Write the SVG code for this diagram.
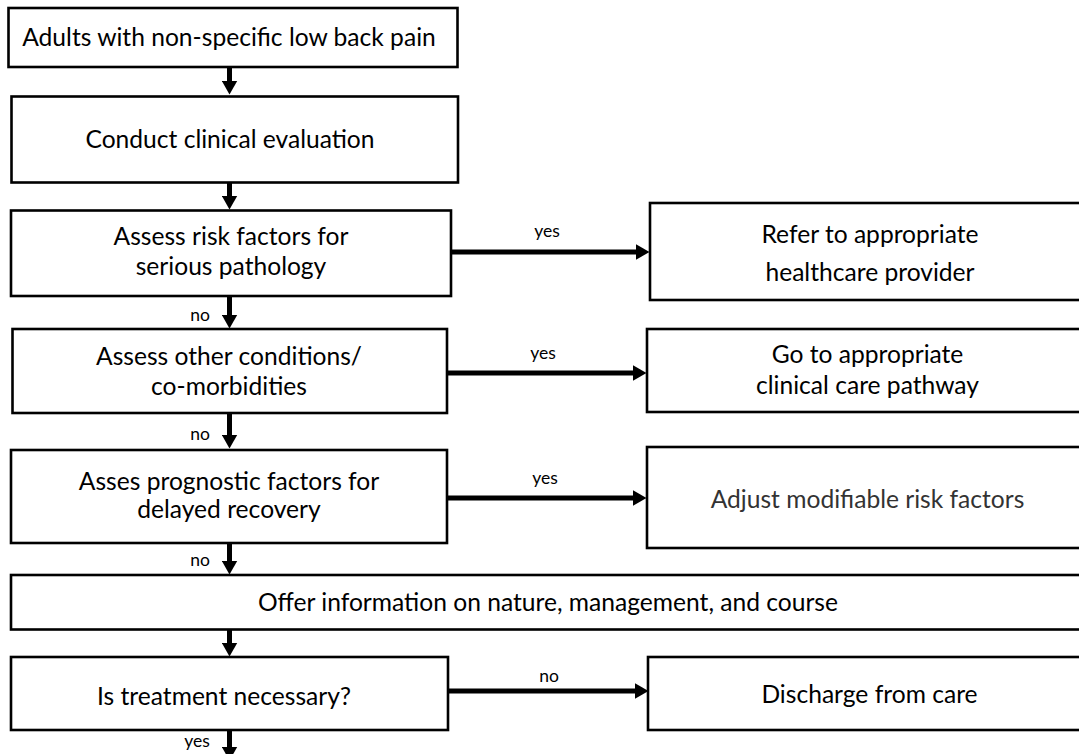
<svg xmlns="http://www.w3.org/2000/svg" width="1079" height="754" viewBox="0 0 1079 754">
<style>
.box{fill:#fff;stroke:#000;stroke-width:2.6}
.t{font-family:Lato,"Liberation Sans",sans-serif;font-size:24.6px;fill:#000;text-anchor:middle}
.g{fill:#333}
.l{font-family:Lato,"Liberation Sans",sans-serif;font-size:17.5px;fill:#000;text-anchor:middle}
.c{stroke:#000;stroke-width:5;fill:none}
</style>
<defs>
<marker id="ah" viewBox="0 0 14 16" markerWidth="14" markerHeight="16" markerUnits="userSpaceOnUse" refX="0.5" refY="8" orient="auto">
<path d="M0,0 L14,8 L0,16 Z" fill="#000"/>
</marker>
</defs>
<rect width="1079" height="754" fill="#fff"/>
<g id="connectors">
<line class="c" x1="229.5" y1="67" x2="229.5" y2="81" marker-end="url(#ah)"/>
<line class="c" x1="229.5" y1="183" x2="229.5" y2="196" marker-end="url(#ah)"/>
<line class="c" x1="229.5" y1="296" x2="229.5" y2="315" marker-end="url(#ah)"/>
<line class="c" x1="229.5" y1="413" x2="229.5" y2="435" marker-end="url(#ah)"/>
<line class="c" x1="229.5" y1="543" x2="229.5" y2="561" marker-end="url(#ah)"/>
<line class="c" x1="229.5" y1="630" x2="229.5" y2="643" marker-end="url(#ah)"/>
<line class="c" x1="229.5" y1="730" x2="229.5" y2="747" marker-end="url(#ah)"/>
<line class="c" x1="451" y1="252" x2="636" y2="252" marker-end="url(#ah)"/>
<line class="c" x1="447" y1="373" x2="633" y2="373" marker-end="url(#ah)"/>
<line class="c" x1="447" y1="498" x2="633" y2="498" marker-end="url(#ah)"/>
<line class="c" x1="449" y1="691" x2="635" y2="691" marker-end="url(#ah)"/>
<text class="l" x="547" y="237">yes</text>
<text class="l" x="543" y="359">yes</text>
<text class="l" x="545" y="484">yes</text>
<text class="l" x="549" y="682">no</text>
<text class="l" x="200" y="321">no</text>
<text class="l" x="200" y="440">no</text>
<text class="l" x="200" y="566">no</text>
<text class="l" x="197" y="747">yes</text>
</g>
<g id="n1"><rect class="box" x="8.5" y="8" width="449" height="59"/><text class="t" x="229" y="46">Adults with non-specific low back pain</text></g>
<g id="n2"><rect class="box" x="11.5" y="96.5" width="446.5" height="86"/><text class="t" x="230" y="148">Conduct clinical evaluation</text></g>
<g id="n3"><rect class="box" x="11" y="210.5" width="440" height="85.5"/><text class="t" x="231" y="245">Assess risk factors for</text><text class="t" x="231" y="275">serious pathology</text></g>
<g id="n4"><rect class="box" x="12.5" y="329" width="434.5" height="84"/><text class="t" x="229" y="365">Assess other conditions/</text><text class="t" x="229" y="395">co-morbidities</text></g>
<g id="n5"><rect class="box" x="11" y="450" width="436" height="93"/><text class="t" x="229" y="490">Asses prognostic factors for</text><text class="t" x="229" y="518">delayed recovery</text></g>
<g id="n6"><rect class="box" x="11" y="575" width="1080" height="54.5"/><text class="t" x="548" y="611">Offer information on nature, management, and course</text></g>
<g id="n7"><rect class="box" x="11" y="657" width="437" height="73"/><text class="t" x="224" y="705">Is treatment necessary?</text></g>
<g id="r1"><rect class="box" x="650" y="203" width="450" height="97"/><text class="t" x="870" y="243">Refer to appropriate</text><text class="t" x="870" y="281">healthcare provider</text></g>
<g id="r2"><rect class="box" x="647" y="329" width="450" height="83"/><text class="t" x="867.5" y="363">Go to appropriate</text><text class="t" x="867.5" y="394">clinical care pathway</text></g>
<g id="r3"><rect class="box" x="647" y="447" width="450" height="101"/><text class="t g" x="867.5" y="508">Adjust modifiable risk factors</text></g>
<g id="r4"><rect class="box" x="648" y="657" width="450" height="73"/><text class="t" x="869.5" y="703">Discharge from care</text></g>
</svg>
